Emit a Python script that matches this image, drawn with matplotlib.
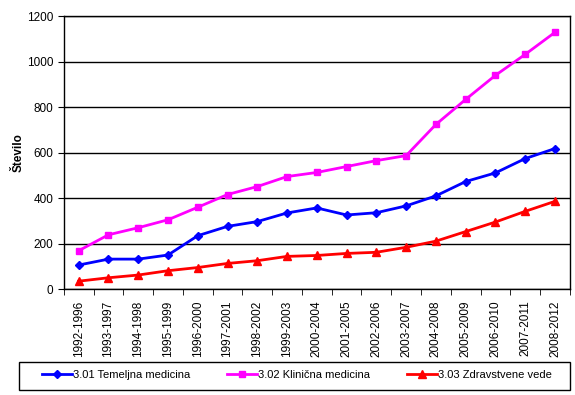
import numpy as np
import matplotlib.pyplot as plt
from matplotlib.patches import Rectangle

plt.rcParams['font.family'] = ['Liberation Sans', 'DejaVu Sans']

# Obdobja
obdobja = ["1992-1996", "1993-1997", "1994-1998", "1995-1999", "1996-2000",
           "1997-2001", "1998-2002", "1999-2003", "2000-2004", "2001-2005",
           "2002-2006", "2003-2007", "2004-2008", "2005-2009", "2006-2010",
           "2007-2011", "2008-2012"]

# Število po vedah
temeljna = [106, 132, 132, 150, 235, 276, 297, 335, 357, 326,
            336, 366, 410, 473, 511, 574, 618]
klinicna = [169, 239, 270, 305, 360, 416, 451, 495, 513, 539,
            565, 587, 724, 834, 940, 1032, 1129]
zdravstvene = [35, 50, 62, 81, 95, 113, 125, 144, 148, 157,
               162, 184, 211, 253, 295, 342, 386]

x = np.arange(len(obdobja))

fig = plt.figure(figsize=(5.75, 3.95), dpi=100)
ax = fig.add_axes([0.111, 0.268, 0.880, 0.691])

ax.plot(x, temeljna, color="#0000FF", lw=2.0, marker="D", ms=4,
        label="3.01 Temeljna medicina")
ax.plot(x, klinicna, color="#FF00FF", lw=2.0, marker="s", ms=5,
        label="3.02 Klinična medicina")
ax.plot(x, zdravstvene, color="#FF0000", lw=2.0, marker="^", ms=5.5,
        label="3.03 Zdravstvene vede")

ax.set_xlim(-0.5, len(obdobja) - 0.5)
ax.set_ylim(0, 1200)
ax.set_yticks(np.arange(0, 1201, 200))
ax.yaxis.grid(True, color="black", lw=1)
ax.set_axisbelow(True)

ax.set_xticks(x)
ax.set_xticklabels(obdobja, rotation=90, fontsize=8.5)
ax.set_xticks(np.arange(-0.5, len(obdobja), 1), minor=True)
ax.tick_params(axis="x", which="major", length=0, pad=8)
ax.tick_params(axis="x", which="minor", length=4, color="black")
ax.tick_params(axis="y", labelsize=8.5, length=4)

for s in ax.spines.values():
    s.set_color("black")
    s.set_linewidth(1)

ax.set_ylabel("Število", fontsize=8.5, fontweight="bold")
ax.yaxis.set_label_coords(-0.077, 0.5)

# okvir legende
fig.patches.append(Rectangle((19 / 575, 5 / 395), 551 / 575, 28 / 395,
                             transform=fig.transFigure, fill=False,
                             edgecolor="black", lw=1))
fig.legend(loc="center left", bbox_to_anchor=(42 / 575, 20 / 395),
           ncol=3, fontsize=8, frameon=False, handlelength=2.7,
           handletextpad=0.1, columnspacing=3.3, borderpad=0,
           borderaxespad=0)

plt.savefig("out.png", dpi=100)
